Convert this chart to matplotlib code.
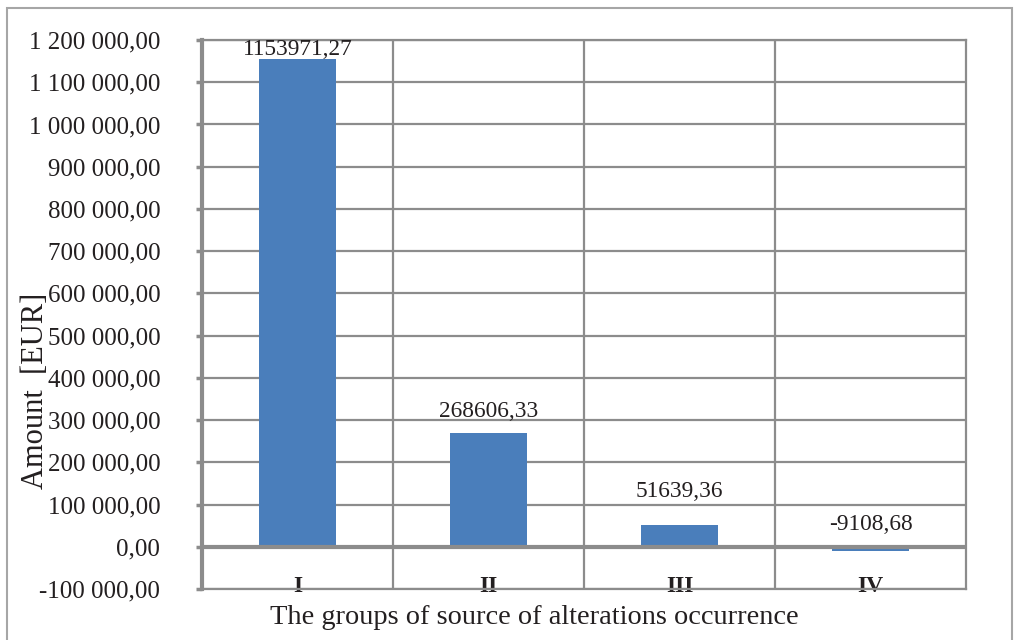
import matplotlib
matplotlib.use("Agg")
import matplotlib.pyplot as plt
from matplotlib.patches import Rectangle
from matplotlib.ticker import FuncFormatter, MultipleLocator
import matplotlib.transforms as mtransforms

# Data
groups = ["I", "II", "III", "IV"]
amounts = [1153971.27, 268606.33, 51639.36, -9108.68]
value_labels = ["1153971,27", "268606,33", "51639,36", "-9108,68"]

plt.rcParams["font.family"] = ["Liberation Serif", "DejaVu Serif"]
text_color = "#231f20"
grid_color = "#8c8c8c"
bar_color = "#4a7ebb"

fig = plt.figure(figsize=(10.14, 6.4), dpi=100)
ax = fig.add_axes([202 / 1014, 1 - 589 / 640, (966 - 202) / 1014, (589 - 40) / 640])

x = list(range(len(groups)))
ax.bar(x, amounts, width=0.40, color=bar_color, zorder=3)

ax.set_xlim(-0.5, len(groups) - 0.5)
ax.set_ylim(-100000, 1200000)
ax.yaxis.set_major_locator(MultipleLocator(100000))


def eur(v, pos):
    s = f"{v:,.2f}".replace(",", " ").replace(".", ",")
    return s


ax.yaxis.set_major_formatter(FuncFormatter(eur))
ax.tick_params(axis="y", labelsize=18, colors=grid_color, labelcolor=text_color,
               length=4, width=2.5, pad=26, direction="out")

# horizontal grid and vertical category separators
ax.grid(axis="y", color=grid_color, linewidth=1.6, zorder=1)
for b in [0.5, 1.5, 2.5]:
    ax.axvline(b, color=grid_color, linewidth=1.6, zorder=1)
ax.axhline(0, color=grid_color, linewidth=3, zorder=4)

ax.set_xticks([])
for side in ["top", "right", "bottom"]:
    ax.spines[side].set_color(grid_color)
    ax.spines[side].set_linewidth(1.6)
ax.spines["left"].set_color(grid_color)
ax.spines["left"].set_linewidth(3)

# category labels at bottom of plot area
trans = mtransforms.blended_transform_factory(ax.transData, ax.transAxes)
for xi, g in zip(x, groups):
    ax.text(xi, -0.006, g, transform=trans, ha="center", va="baseline",
            fontsize=17, fontweight="bold", color=text_color, zorder=2)

# value labels (pixel offsets above bar top / zero)
label_offsets = [10, 22, 33, 22]
for xi, v, lab, off in zip(x, amounts, value_labels, label_offsets):
    ax.annotate(lab, (xi, max(v, 0)), xytext=(0, off * 0.72), textcoords="offset points",
                ha="center", va="center", fontsize=16.8, color=text_color, zorder=5)

fig.text(36 / 1014, 1 - 391 / 640, "Amount  [EUR]", rotation=90, ha="center", va="center",
         fontsize=22, color=text_color)
fig.text(534 / 1014, 1 - 617 / 640, "The groups of source of alterations occurrence",
         ha="center", va="center", fontsize=20.4, color=text_color)

# outer chart border
fig.patches.append(Rectangle((7 / 1014, -0.05), (1012 - 7) / 1014, 1 - 8 / 640 + 0.05,
                             transform=fig.transFigure, fill=False,
                             edgecolor="#a6a6a6", linewidth=1.5))

fig.savefig("out.png", dpi=100)
